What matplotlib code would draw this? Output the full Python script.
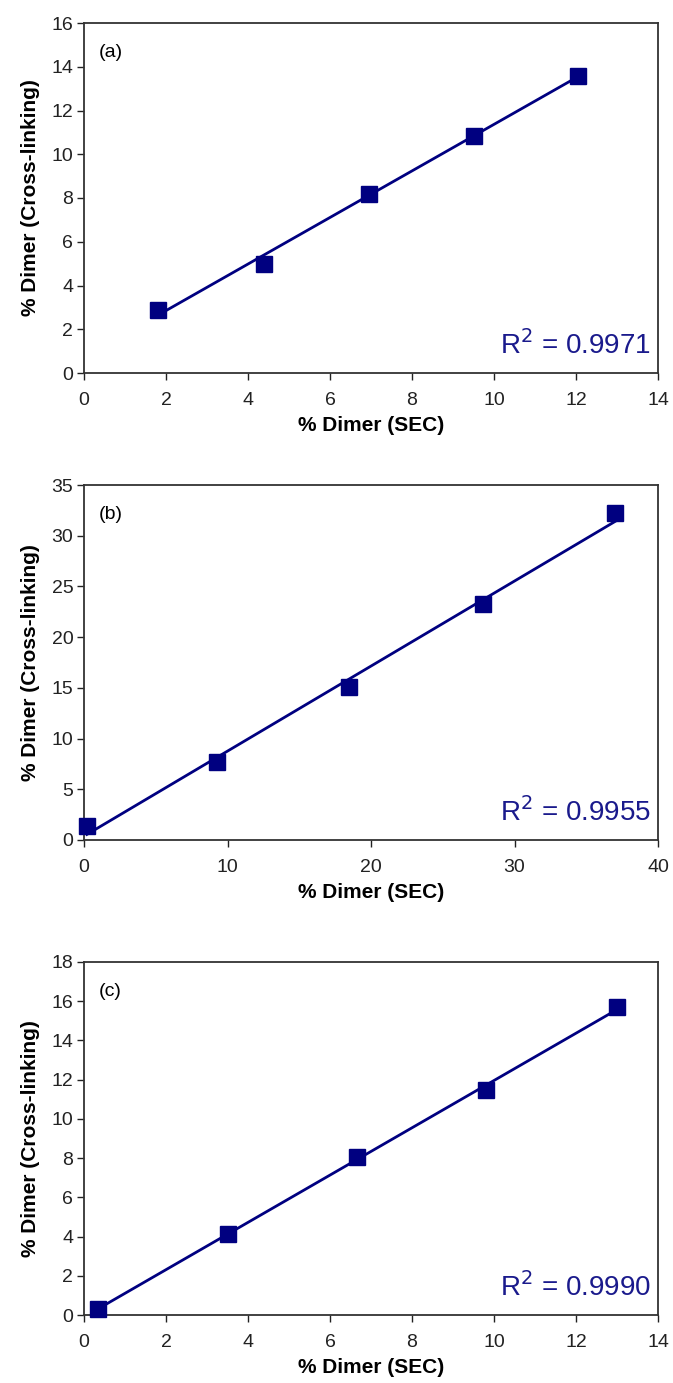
#!/usr/bin/env python
'''
% dimer by cross-linking vs SEC, three panels with linear fits
'''

import matplotlib
matplotlib.use('Agg')
import matplotlib.pyplot as plt
import numpy as np

plt.rcParams['font.family'] = ['Liberation Sans', 'DejaVu Sans']

navy = '#000080'

# panel data
xA = [1.8, 4.4, 6.95, 9.5, 12.05]
yA = [2.9, 5.0, 8.2, 10.85, 13.6]
xB = [0.2, 9.3, 18.5, 27.8, 37.0]
yB = [1.4, 7.7, 15.1, 23.3, 32.2]
xC = [0.35, 3.5, 6.65, 9.8, 13.0]
yC = [0.3, 4.15, 8.05, 11.45, 15.7]

tags = ['(a)', '(b)', '(c)']
r2Text = ['0.9971', '0.9955', '0.9990']
xLims = [[0, 14], [0, 40], [0, 14]]
yLims = [[0, 16], [0, 35], [0, 18]]
xSteps = [2, 10, 2]
ySteps = [2, 5, 2]

W, H = 673., 1383.
# axes boxes in pixels: left, top, right, bottom
boxes = [(84, 23, 658, 373), (84, 485, 658, 840), (84, 962, 658, 1315)]

fig = plt.figure(figsize=(W/100., H/100.), dpi=100)

data = [(xA, yA), (xB, yB), (xC, yC)]
for n in range(3):
   l, t, r, b = boxes[n]
   ax = fig.add_axes([l/W, 1-b/H, (r-l)/W, (b-t)/H])
   x, y = data[n]
   # linear trendline
   p = np.polyfit(x, y, 1)
   xf = np.array([min(x), max(x)])
   ax.plot(xf, np.polyval(p, xf), '-', color=navy, lw=2.0, zorder=2)
   ax.plot(x, y, 's', color=navy, ms=11, zorder=3, clip_on=False)
   ax.set_xlim(xLims[n])
   ax.set_ylim(yLims[n])
   ax.set_xticks(np.arange(xLims[n][0], xLims[n][1]+0.1, xSteps[n]))
   ax.set_yticks(np.arange(yLims[n][0], yLims[n][1]+0.1, ySteps[n]))
   ax.tick_params(direction='out', length=4.7, width=1, labelsize=14, colors='#222222')
   ax.tick_params(axis='x', pad=9)
   ax.tick_params(axis='y', pad=3)
   for s in ax.spines.values():
      s.set_color('#333333')
      s.set_linewidth(1.3)
   ax.set_xlabel('% Dimer (SEC)', fontsize=15, fontweight='bold', labelpad=5)
   ax.set_ylabel('% Dimer (Cross-linking)', fontsize=15, fontweight='bold', labelpad=8)
   ax.text(0.026, 0.917, tags[n], transform=ax.transAxes, fontsize=14, va='center', ha='left')
   ax.text(0.987, 0.08, r'R$^2$ = ' + r2Text[n], transform=ax.transAxes, fontsize=20,
           color='#1a1a8c', va='center', ha='right')

plt.savefig('out.png', dpi=100)
print('Created plot: out.png')
